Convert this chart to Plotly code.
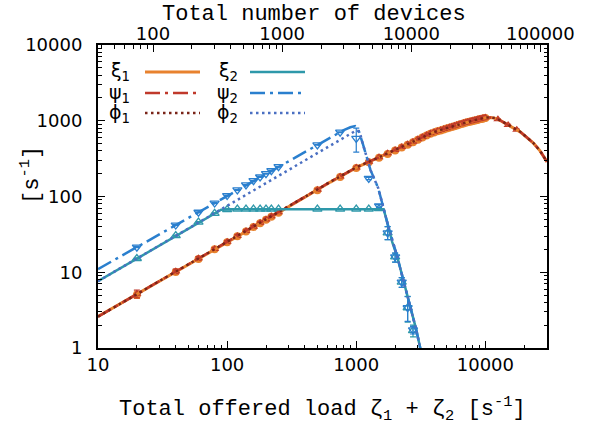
import math
import plotly.graph_objects as go

# ---------------- data ----------------
# class 1 analytical curves (xi1, psi1, phi1 nearly coincide)
load_c1 = [10, 20, 50, 100, 200, 400, 630, 1000, 1500, 2000, 3000, 4000, 5000, 6000,
           7000, 8000, 9000, 10000, 11000, 12000, 13000, 14000, 16000, 18600, 21000,
           23660, 26500, 30000]
xi1 = [2.6, 5.1, 12.6, 25, 49, 98, 155, 240, 327, 407, 565, 705, 792, 871,
       944, 1000, 1050, 1096, 1100, 1075, 1010, 940, 820, 714, 600,
       502, 400, 287]
psi1 = [2.6, 5.1, 12.7, 25.2, 49.5, 99, 156, 242, 330, 411, 570, 710, 798, 878,
        950, 1006, 1056, 1102, 1106, 1080, 1015, 944, 823, 716, 601,
        503, 401, 287]
phi1 = [2.6, 5.1, 12.7, 25.2, 49.5, 99, 156, 242, 330, 411, 570, 710, 798, 878,
        950, 1006, 1056, 1102, 1106, 1080, 1015, 944, 823, 716, 601,
        503, 401, 287]

# class 2 analytical curves
load_xi2 = [10, 20, 50, 80, 90, 100, 300, 1000, 1500, 1630, 1700, 1780, 1900, 2080,
            2320, 2630, 2900, 3130, 3400]
xi2 = [7.6, 15.2, 38, 61, 67, 68, 68, 68, 68, 68, 52, 39, 25, 15.9,
       7.9, 3.5, 1.8, 1.0, 0.55]
load_psi2 = [10, 20, 50, 100, 200, 500, 800, 900, 980, 1030, 1080, 1120, 1200, 1290,
             1480, 1630, 1780, 2080, 2320, 2630, 2900, 3130, 3400]
psi2 = [11, 21.5, 52, 102, 198, 480, 752, 820, 850, 800, 640, 505, 340, 223,
        129, 70, 39, 15.9, 7.9, 3.5, 1.8, 1.0, 0.55]
load_phi2 = [10, 20, 50, 90, 200, 500, 800, 950, 1000, 1040, 1080, 1120, 1200, 1290,
             1480, 1630, 1780, 2080, 2320, 2630, 2900, 3130, 3400]
phi2 = [7.6, 15.2, 38, 67, 150, 375, 600, 720, 745, 730, 640, 505, 340, 223,
        129, 70, 39, 15.9, 7.9, 3.5, 1.8, 1.0, 0.55]

# simulation points, class 1
sim_load_c1 = [20, 40, 60, 80, 100, 120, 140, 160, 180, 200, 220, 250, 500, 750,
               1000, 1250, 1500, 1750, 2000, 2250, 2500, 2750, 3000, 3250, 3500, 3750,
               4000, 4250, 4500, 4750, 5000, 5250, 5500, 5750, 6000, 6250, 6500, 6750,
               7000, 7250, 7500, 7750, 8000, 8250, 8500, 8750, 9000, 9250, 9500, 9750,
               10000]
xi1_sim = [5.0, 10.1, 15.0, 20.1, 24.8, 29.9, 34.6, 39.6, 44.3, 49.2, 54, 61, 121, 181,
           238, 283, 325, 365, 405, 442, 482, 522, 562, 600, 640, 676,
           700, 724, 746, 767, 788, 808, 828, 848, 866, 886, 903, 921,
           938, 952, 967, 980, 994, 1006, 1019, 1031, 1043, 1055, 1066, 1077,
           1088]
xi1_err = [0.5, 0.6, 0.7, 0.8, 0.9, 1.0, 1.1, 1.2, 1.3, 1.4, 1.5, 1.6, 3, 4,
           5, 6, 6, 7, 7, 8, 8, 9, 9, 10, 10, 10,
           11, 11, 11, 12, 12, 12, 12, 13, 13, 13, 13, 14,
           14, 14, 14, 15, 15, 15, 15, 16, 16, 16, 16, 16,
           17]
sim_load_psi1 = [20, 40, 60, 80, 100, 120, 140, 160, 180, 200, 220, 250, 500, 750,
                 1000, 1250, 1500, 1750, 2000, 2250, 2500, 2750, 3000, 3250, 3500, 3750,
                 4000, 4250, 4500, 4750, 5000, 5250, 5500, 5750, 6000, 6250, 6500, 6750,
                 7000, 7250, 7500, 7750, 8000, 8250, 8500, 8750, 9000, 9250, 9500, 9750,
                 10000, 12500, 15000, 17500]
psi1_sim = [5.2, 10.3, 15.3, 20.3, 25.2, 30.2, 35.1, 40, 44.9, 49.8, 54.7, 62, 123, 184,
            242, 288, 330, 371, 411, 449, 489, 529, 570, 609, 648, 684,
            709, 733, 755, 777, 798, 818, 838, 858, 877, 896, 914, 932,
            949, 964, 979, 993, 1006, 1019, 1032, 1044, 1056, 1068, 1079, 1090,
            1100, 1045, 880, 760]
psi1_err = [0.6, 0.7, 0.8, 0.9, 1.0, 1.1, 1.2, 1.3, 1.4, 1.5, 1.6, 1.7, 3, 4,
            5, 6, 6, 7, 7, 8, 8, 9, 9, 10, 10, 10,
            11, 11, 11, 12, 12, 12, 12, 13, 13, 13, 13, 14,
            14, 14, 14, 15, 15, 15, 15, 16, 16, 16, 16, 16,
            17, 17, 16, 15]

# simulation points, class 2
sim_load_c2 = [20, 40, 60, 80, 100, 120, 140, 160, 180, 200, 220, 250, 500, 750,
               1000, 1250, 1500, 1750, 2000, 2250, 2500, 2750]
xi2_sim = [15.2, 30.5, 46, 60, 67, 68, 68, 68, 68, 68, 68, 68, 68, 68,
           68, 68, 69, 33, 16, 7.4, 3.4, 1.7]
xi2_err_p = [0.3, 0.5, 0.7, 0.8, 0.8, 0.8, 0.8, 0.8, 0.8, 0.8, 0.8, 0.8, 0.8, 0.8,
             0.8, 0.8, 1.5, 7, 1.9, 1.1, 1.4, 0.3]
xi2_err_m = [0.3, 0.5, 0.7, 0.8, 0.8, 0.8, 0.8, 0.8, 0.8, 0.8, 0.8, 0.8, 0.8, 0.8,
             0.8, 0.8, 1.5, 6, 2.4, 1.1, 1.2, 0.3]
psi2_sim = [21.5, 42, 62, 82, 103, 122, 142, 162, 181, 200, 220, 248, 480, 707,
            585, 173, 75, 33, 16, 7.4, 3.4, 1.73]
psi2_err_p = [0.4, 0.6, 0.8, 1.0, 1.2, 1.4, 1.6, 1.8, 2.0, 2.2, 2.4, 2.6, 5, 8,
              215, 6, 3, 7, 1.9, 1.1, 1.36, 0.2]
psi2_err_m = [0.4, 0.6, 0.8, 1.0, 1.2, 1.4, 1.6, 1.8, 2.0, 2.2, 2.4, 2.6, 5, 8,
              200, 6, 3, 6, 2.4, 1.1, 1.16, 0.2]

# axis ticks
x_ticks = [10, 100, 1000, 10000]
top_ticks = [100, 1000, 10000, 100000]
y_ticks = [1, 10, 100, 1000, 10000]
x_range = [10, 30000]
dev_range = [37.5, 112500]   # number of devices corresponding to x_range
y_range = [1, 10000]

# ---------------- styles ----------------
C_XI1 = "#e8822e"
C_PSI1 = "#c0392b"
C_PHI1 = "#7a2418"
C_XI2 = "#2e98aa"
C_PSI2 = "#2a7fce"
C_PHI2 = "#4a6fc2"
DASHDOT = "15px,5px,3px,5px"
DOT = "2.5px,3.5px"

fig = go.Figure()

# simulation markers
fig.add_trace(go.Scatter(x=sim_load_c1, y=xi1_sim, mode="markers",
                         marker=dict(symbol="circle", size=8, color=C_XI1),
                         error_y=dict(type="data", array=xi1_err, color=C_XI1, thickness=1.2, width=3),
                         showlegend=False))
fig.add_trace(go.Scatter(x=sim_load_psi1, y=psi1_sim, mode="markers",
                         marker=dict(symbol="triangle-up", size=8, color=C_PSI1),
                         error_y=dict(type="data", array=psi1_err, color=C_PSI1, thickness=1.2, width=3),
                         showlegend=False))
fig.add_trace(go.Scatter(x=sim_load_c2, y=xi2_sim, mode="markers",
                         marker=dict(symbol="triangle-up-open", size=8, color=C_XI2, line=dict(width=1.3)),
                         error_y=dict(type="data", array=xi2_err_p, arrayminus=xi2_err_m,
                                      color=C_XI2, thickness=1.2, width=3),
                         showlegend=False))
fig.add_trace(go.Scatter(x=sim_load_c2, y=psi2_sim, mode="markers",
                         marker=dict(symbol="triangle-down-open", size=8, color=C_PSI2, line=dict(width=1.3)),
                         error_y=dict(type="data", array=psi2_err_p, arrayminus=psi2_err_m,
                                      color=C_PSI2, thickness=1.2, width=3),
                         showlegend=False))

# analytical curves
fig.add_trace(go.Scatter(x=load_c1, y=xi1, mode="lines", line=dict(color=C_XI1, width=3), showlegend=False))
fig.add_trace(go.Scatter(x=load_c1, y=psi1, mode="lines", line=dict(color=C_PSI1, width=2.5, dash=DASHDOT), showlegend=False))
fig.add_trace(go.Scatter(x=load_c1, y=phi1, mode="lines", line=dict(color=C_PHI1, width=2.5, dash=DOT), showlegend=False))
fig.add_trace(go.Scatter(x=load_xi2, y=xi2, mode="lines", line=dict(color=C_XI2, width=2.5), showlegend=False))
fig.add_trace(go.Scatter(x=load_psi2, y=psi2, mode="lines", line=dict(color=C_PSI2, width=2.5, dash=DASHDOT), showlegend=False))
fig.add_trace(go.Scatter(x=load_phi2, y=phi2, mode="lines", line=dict(color=C_PHI2, width=2.5, dash=DOT), showlegend=False))

# invisible trace to anchor the top (devices) axis
fig.add_trace(go.Scatter(x=dev_range, y=[1, 1], xaxis="x2", mode="lines",
                         line=dict(width=0), opacity=0, hoverinfo="skip", showlegend=False))

TICKFONT = dict(family="DejaVu Sans", size=18, color="black")
TITLEFONT = dict(family="Liberation Mono", size=22, color="black")
minor = dict(ticks="inside", ticklen=3.5, tickwidth=1, tickcolor="black", dtick="D1", showgrid=False)

fig.update_layout(
    width=589, height=426,
    margin=dict(l=98, r=42, t=45, b=78, autoexpand=False),
    paper_bgcolor="white", plot_bgcolor="white",
    showlegend=False,
    xaxis=dict(type="log", range=[math.log10(x_range[0]), math.log10(x_range[1])],
               tickmode="array", tickvals=x_ticks, ticktext=[str(v) for v in x_ticks],
               ticks="inside", ticklen=7, tickwidth=1, tickcolor="black",
               showline=True, linecolor="black", linewidth=2, mirror=False,
               showgrid=False, zeroline=False, tickfont=TICKFONT, automargin=False,
               ticklabelstandoff=-1, minor=minor),
    xaxis2=dict(type="log", range=[math.log10(dev_range[0]), math.log10(dev_range[1])],
                overlaying="x", side="top", anchor="y",
                tickmode="array", tickvals=top_ticks, ticktext=[str(v) for v in top_ticks],
                ticks="inside", ticklen=7, tickwidth=1, tickcolor="black",
                showline=True, linecolor="black", linewidth=2, automargin=False,
                showgrid=False, zeroline=False, tickfont=TICKFONT,
                ticklabelstandoff=-4, minor=minor),
    yaxis=dict(type="log", range=[math.log10(y_range[0]), math.log10(y_range[1])],
               tickmode="array", tickvals=y_ticks, ticktext=[str(v) for v in y_ticks],
               ticks="inside", ticklen=7, tickwidth=1, tickcolor="black",
               showline=True, linecolor="black", linewidth=2, mirror="ticks",
               showgrid=False, zeroline=False, tickfont=TICKFONT, automargin=False,
               ticklabelstandoff=10, minor=minor),
)

# axis titles
fig.add_annotation(text="Total number of devices", xref="paper", yref="paper",
                   x=(314 - 98) / 449, y=348 / 303, showarrow=False,
                   xanchor="center", yanchor="top", font=TITLEFONT)
fig.add_annotation(text="Total offered load ζ<sub>1</sub> + ζ<sub>2</sub> [s<sup>-1</sup>]",
                   xref="paper", yref="paper",
                   x=(322 - 98) / 449, y=(348 - 409) / 303, showarrow=False,
                   xanchor="center", yanchor="middle", font=TITLEFONT)
fig.add_annotation(text="[s<sup>-1</sup>]", xref="paper", yref="paper",
                   x=(30 - 98) / 449, y=(348 - 175) / 303, showarrow=False, textangle=-90,
                   xanchor="center", yanchor="middle", font=TITLEFONT)

# manual key (gnuplot style: label, then line sample)
LEGFONT = dict(family="DejaVu Sans", size=19, color="black")
key = [
    ("ξ<sub>1</sub>", C_XI1, None, 3, 132, 145, 200, 72),
    ("ψ<sub>1</sub>", C_PSI1, DASHDOT, 2.5, 132, 145, 200, 93),
    ("ϕ<sub>1</sub>", C_PHI1, DOT, 2.5, 132, 145, 200, 113),
    ("ξ<sub>2</sub>", C_XI2, None, 2.5, 240, 250, 305, 72),
    ("ψ<sub>2</sub>", C_PSI2, DASHDOT, 2.5, 240, 250, 305, 93),
    ("ϕ<sub>2</sub>", C_PHI2, DOT, 2.5, 240, 250, 305, 113),
]
for label, col, dash, w, tx, x0, x1, py in key:
    yp = (348 - py) / 303
    fig.add_annotation(text=label, xref="paper", yref="paper", x=(tx - 98) / 449, y=yp,
                       showarrow=False, xanchor="right", yanchor="middle", font=LEGFONT)
    ln = dict(color=col, width=w)
    if dash:
        ln["dash"] = dash
    fig.add_shape(type="line", xref="paper", yref="paper",
                  x0=(x0 - 98) / 449, x1=(x1 - 98) / 449, y0=yp, y1=yp, line=ln)

# remove the default page margin so the figure sits at the window origin
fig.write_html("out.html", config={"displayModeBar": False},
               post_script="document.body.style.margin='0';")
